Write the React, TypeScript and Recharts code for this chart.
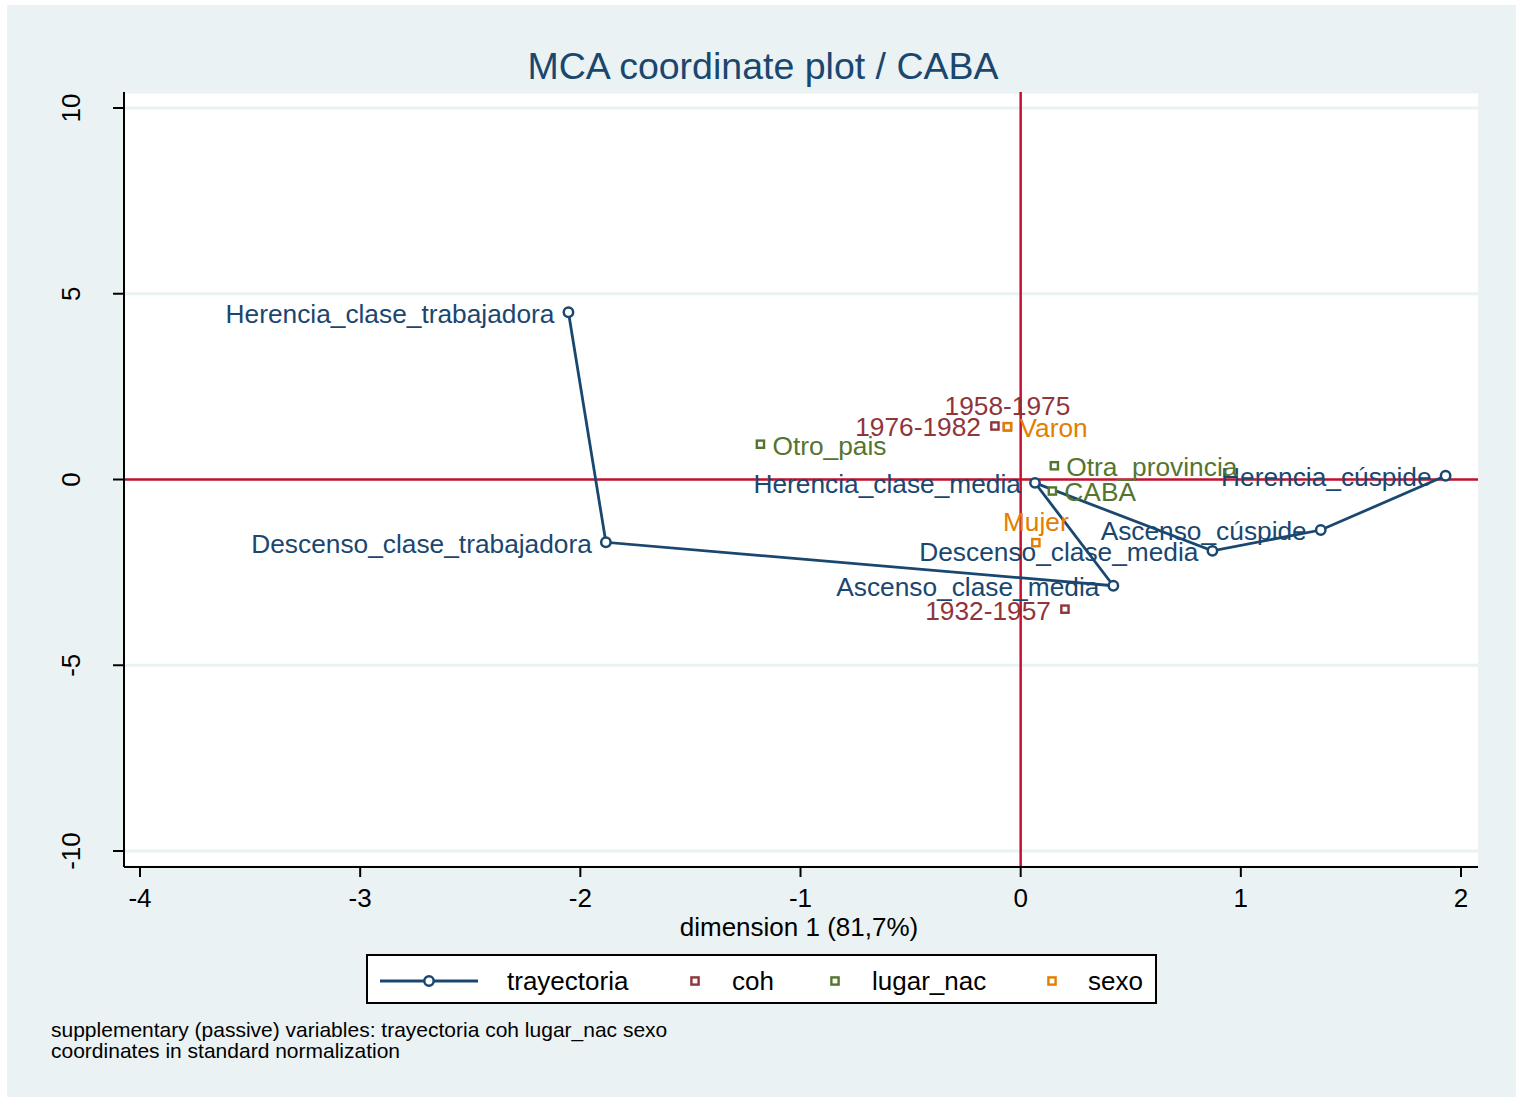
import { ScatterChart, Scatter, XAxis, YAxis, CartesianGrid, ReferenceLine } from "recharts";

const NAVY = "#1a476f";
const MAROON = "#90353b";
const GREEN = "#55752f";
const ORANGE = "#e37e00";
const REF_RED = "#c8102e";
const BG = "#eaf2f3";
const FONT = '"Liberation Sans", Arial, Helvetica, sans-serif';

// trayectoria, joined by the line in this order
const trayNames = [
	"Herencia_clase_trabajadora",
	"Descenso_clase_trabajadora",
	"Ascenso_clase_media",
	"Herencia_clase_media",
	"Descenso_clase_media",
	"Ascenso_cúspide",
	"Herencia_cúspide",
];
const trayDim1 = [-2.054, -1.884, 0.421, 0.065, 0.871, 1.363, 1.93];
const trayDim2 = [4.5, -1.69, -2.86, -0.09, -1.92, -1.36, 0.1];

const cohNames = ["1932-1957", "1958-1975", "1976-1982"];
const cohDim1 = [0.201, -0.06, -0.117];
const cohDim2 = [-3.49, 1.42, 1.44];

const lugarNames = ["CABA", "Otra_provincia", "Otro_pais"];
const lugarDim1 = [0.144, 0.153, -1.182];
const lugarDim2 = [-0.31, 0.37, 0.95];

const sexoNames = ["Varon", "Mujer"];
const sexoDim1 = [-0.06, 0.069];
const sexoDim2 = [1.42, -1.7];

const xTicks = [-4, -3, -2, -1, 0, 1, 2];
const yTicks = [-10, -5, 0, 5, 10];

const legendItems = ["trayectoria", "coh", "lugar_nac", "sexo"];
const notes = [
	"supplementary (passive) variables: trayectoria coh lugar_nac sexo",
	"coordinates in standard normalization",
];

const toPoints = (names: string[], d1: number[], d2: number[]) =>
	names.map((name, i) => ({ name, x: d1[i], y: d2[i] }));

const trayData = toPoints(trayNames, trayDim1, trayDim2);
const cohData = toPoints(cohNames, cohDim1, cohDim2);
const lugarData = toPoints(lugarNames, lugarDim1, lugarDim2);
const sexoData = toPoints(sexoNames, sexoDim1, sexoDim2);

// where each marker label sits (default: left of the point)
const labelSide: Record<string, "left" | "right" | "top"> = {
	"1958-1975": "top",
	Mujer: "top",
	Varon: "right",
	CABA: "right",
	Otra_provincia: "right",
	Otro_pais: "right",
};

const makeShape = (kind: "circle" | "square", color: string) => (props: any) => {
	const { cx, cy, payload } = props;
	if (cx == null || cy == null) return <g />;
	const side = labelSide[payload.name] ?? "left";
	let tx = cx - 14;
	let ty = cy + 1;
	let anchor: "end" | "start" | "middle" = "end";
	if (side === "right") {
		tx = cx + 12;
		anchor = "start";
	}
	if (side === "top") {
		tx = cx;
		ty = cy - 21;
		anchor = "middle";
	}
	return (
		<g>
			{kind === "circle" ? (
				<circle cx={cx} cy={cy} r={4.7} fill="#fff" stroke={color} strokeWidth={2.5} />
			) : (
				<rect x={cx - 3.6} y={cy - 3.6} width={7.2} height={7.2} fill="#fff" stroke={color} strokeWidth={2.4} />
			)}
			<text x={tx} y={ty} dy="0.36em" textAnchor={anchor} fill={color} fontSize={26.3} fontFamily={FONT}>
				{payload.name}
			</text>
		</g>
	);
};

const XTick = (props: any) => {
	const { x, y, payload } = props;
	return (
		<text x={x} y={y + 19} dy="0.36em" textAnchor="middle" fontSize={26} fill="#000" fontFamily={FONT}>
			{payload.value}
		</text>
	);
};

const YTick = (props: any) => {
	const { x, y, payload } = props;
	const tx = x - 40;
	return (
		<text
			x={tx}
			y={y}
			dy="0.36em"
			transform={`rotate(-90, ${tx}, ${y})`}
			textAnchor="middle"
			fontSize={26}
			fill="#000"
			fontFamily={FONT}
		>
			{payload.value}
		</text>
	);
};

const Txt = ({ x, y, size, color = "#000", children, anchor = "center" }: any) => (
	<div
		style={{
			position: "absolute",
			left: x,
			top: y,
			transform: anchor === "center" ? "translate(-50%, -50%)" : "translate(0, -50%)",
			fontSize: size,
			lineHeight: 1,
			color,
			fontFamily: FONT,
			whiteSpace: "nowrap",
		}}
	>
		{children}
	</div>
);

const SquareIcon = ({ color }: { color: string }) => (
	<svg width={14} height={14} style={{ display: "block" }}>
		<rect x={3.4} y={3.4} width={7.2} height={7.2} fill="#fff" stroke={color} strokeWidth={2.4} />
	</svg>
);

export default function App() {
	return (
		<div style={{ position: "absolute", left: 0, top: 0, width: 1516, height: 1100, background: "#fff" }}>
			<div style={{ position: "absolute", left: 7, top: 5, width: 1509, height: 1092, background: BG }} />

			<div style={{ position: "absolute", left: 0, top: 0 }}>
				<ScatterChart width={1516} height={1100} margin={{ top: 92, right: 38, bottom: 193, left: 64 }}>
					<CartesianGrid fill="#ffffff" fillOpacity={1} stroke={BG} strokeWidth={3} vertical={false} />
					<XAxis
						type="number"
						dataKey="x"
						domain={[-4.0727, 2.0772]}
						allowDataOverflow
						ticks={xTicks}
						height={40}
						axisLine={{ stroke: "#000", strokeWidth: 2 }}
						tickLine={{ stroke: "#000", strokeWidth: 2 }}
						tickSize={10}
						tick={<XTick />}
					/>
					<YAxis
						type="number"
						dataKey="y"
						domain={[-10.43, 10.43]}
						allowDataOverflow
						ticks={yTicks}
						width={60}
						axisLine={{ stroke: "#000", strokeWidth: 2 }}
						tickLine={{ stroke: "#000", strokeWidth: 2 }}
						tickSize={11}
						tick={<YTick />}
					/>
					<ReferenceLine x={0} stroke={REF_RED} strokeWidth={2.5} />
					<ReferenceLine y={0} stroke={REF_RED} strokeWidth={2.5} />
					<Scatter
						data={trayData}
						fill={NAVY}
						line={{ stroke: NAVY, strokeWidth: 2.8 }}
						lineType="joint"
						shape={makeShape("circle", NAVY)}
						isAnimationActive={false}
					/>
					<Scatter data={cohData} fill={MAROON} shape={makeShape("square", MAROON)} isAnimationActive={false} />
					<Scatter data={lugarData} fill={GREEN} shape={makeShape("square", GREEN)} isAnimationActive={false} />
					<Scatter data={sexoData} fill={ORANGE} shape={makeShape("square", ORANGE)} isAnimationActive={false} />
				</ScatterChart>
			</div>

			<Txt x={763} y={67} size={37.5} color={NAVY}>
				MCA coordinate plot / CABA
			</Txt>
			<Txt x={799} y={927} size={26}>
				dimension 1 (81,7%)
			</Txt>

			{/* legend */}
			<div
				style={{
					position: "absolute",
					left: 366,
					top: 954,
					width: 791,
					height: 50,
					boxSizing: "border-box",
					border: "2px solid #000",
					background: "#fff",
				}}
			>
				<svg width={100} height={14} style={{ position: "absolute", left: 11, top: 18 }}>
					<line x1={1} y1={7} x2={99} y2={7} stroke={NAVY} strokeWidth={2.8} />
					<circle cx={50} cy={7} r={4.7} fill="#fff" stroke={NAVY} strokeWidth={2.5} />
				</svg>
				<Txt x={139} y={25} size={26} anchor="left">
					{legendItems[0]}
				</Txt>
				<div style={{ position: "absolute", left: 320, top: 18 }}>
					<SquareIcon color={MAROON} />
				</div>
				<Txt x={364} y={25} size={26} anchor="left">
					{legendItems[1]}
				</Txt>
				<div style={{ position: "absolute", left: 460, top: 18 }}>
					<SquareIcon color={GREEN} />
				</div>
				<Txt x={504} y={25} size={26} anchor="left">
					{legendItems[2]}
				</Txt>
				<div style={{ position: "absolute", left: 677, top: 18 }}>
					<SquareIcon color={ORANGE} />
				</div>
				<Txt x={720} y={25} size={26} anchor="left">
					{legendItems[3]}
				</Txt>
			</div>

			<Txt x={51} y={1029} size={21} anchor="left">
				{notes[0]}
			</Txt>
			<Txt x={51} y={1050} size={21} anchor="left">
				{notes[1]}
			</Txt>
		</div>
	);
}
